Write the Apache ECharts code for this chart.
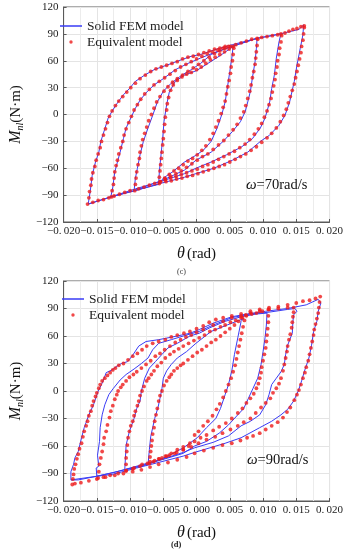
<!DOCTYPE html>
<html>
<head>
<meta charset="utf-8">
<script src="https://cdn.jsdelivr.net/npm/echarts@6/dist/echarts.min.js"></script>
<style>
html,body{margin:0;padding:0;background:#fff;}
#c{width:346px;height:550px;}
</style>
</head>
<body>
<div id="c"></div>
<script>
// ---------- axis ticks ----------
var xTickValues = [-0.020,-0.015,-0.010,-0.005,0.000,0.005,0.010,0.015,0.020];
var yTickValues = [-120,-90,-60,-30,0,30,60,90,120];
var seriesNames = ['Solid FEM model','Equivalent model'];
var panelLabels = ['(c)','(d)'];
var speedLabels = ['70rad/s','90rad/s'];

// ---------- ω = 70 rad/s : Solid FEM model (θ rad, M N·m) ----------
var fem70Loop1 = [[-0.0057,-78],[-0.0056,-64],[-0.0054,-49],[-0.0051,-27],[-0.0049,-8],[-0.0045,11],[-0.0041,25],[-0.0032,37],[-0.0018,44],[0.0000,49],[0.0017,57],[0.0036,66],[0.0055,76],[0.0053,63],[0.0050,48],[0.0047,33],[0.0043,14],[0.0038,0],[0.0031,-15],[0.0022,-30],[0.0010,-40],[-0.0002,-46],[-0.0018,-53],[-0.0036,-64],[-0.0050,-71],[-0.0057,-78]];
var fem70Loop2 = [[-0.0094,-85],[-0.0092,-71],[-0.0089,-60],[-0.0085,-45],[-0.0080,-30],[-0.0073,-15],[-0.0066,-1],[-0.0059,14],[-0.0050,26],[-0.0038,35],[-0.0022,44],[-0.0008,50],[0.0006,57],[0.0022,67],[0.0045,74],[0.0060,78],[0.0091,85],[0.0090,74],[0.0088,59],[0.0084,41],[0.0081,26],[0.0077,14],[0.0073,3],[0.0066,-8],[0.0054,-19],[0.0040,-30],[0.0022,-42],[-0.0001,-51],[-0.0018,-62],[-0.0050,-73],[-0.0094,-85]];
var fem70Loop3 = [[-0.0129,-92],[-0.0126,-81],[-0.0123,-64],[-0.0119,-53],[-0.0115,-42],[-0.0110,-27],[-0.0106,-15],[-0.0099,-4],[-0.0092,7],[-0.0085,16],[-0.0075,25],[-0.0064,33],[-0.0050,40],[-0.0032,50],[-0.0013,57],[0.0006,63],[0.0026,69],[0.0054,76],[0.0091,85],[0.0127,90],[0.0124,81],[0.0120,63],[0.0117,44],[0.0113,29],[0.0110,14],[0.0103,-4],[0.0096,-15],[0.0084,-27],[0.0068,-36],[0.0045,-45],[0.0022,-53],[-0.0001,-60],[-0.0018,-66],[-0.0055,-75],[-0.0092,-83],[-0.0129,-92]];
var fem70Loop4 = [[-0.0163,-100],[-0.0160,-86],[-0.0157,-68],[-0.0152,-53],[-0.0147,-42],[-0.0144,-30],[-0.0138,-16],[-0.0133,-4],[-0.0126,5],[-0.0119,13],[-0.0110,22],[-0.0101,29],[-0.0092,37],[-0.0078,44],[-0.0064,50],[-0.0045,55],[-0.0027,60],[-0.0008,65],[0.0006,67],[0.0026,72],[0.0054,78],[0.0091,85],[0.0126,90],[0.0154,95],[0.0161,100],[0.0160,89],[0.0156,74],[0.0151,55],[0.0147,37],[0.0140,14],[0.0133,-1],[0.0124,-12],[0.0110,-23],[0.0096,-30],[0.0077,-42],[0.0054,-51],[0.0026,-60],[-0.0001,-66],[-0.0018,-70],[-0.0055,-77],[-0.0092,-85],[-0.0129,-92],[-0.0163,-100]];

// ---------- ω = 70 rad/s : Equivalent model ----------
var eq70Loop1 = [[-0.0056,-77],[-0.0056,-70],[-0.0055,-63],[-0.0054,-56],[-0.0053,-49],[-0.0052,-42],[-0.0051,-34],[-0.0050,-27],[-0.0049,-19],[-0.0048,-11],[-0.0047,-3],[-0.0045,5],[-0.0044,12],[-0.0042,19],[-0.0039,27],[-0.0035,33],[-0.0029,38],[-0.0022,42],[-0.0015,45],[-0.0008,47],[0.0000,50],[0.0007,53],[0.0014,57],[0.0021,61],[0.0028,64],[0.0035,67],[0.0042,70],[0.0049,73],[0.0055,76],
 [0.0056,74],[0.0055,67],[0.0054,60],[0.0052,53],[0.0051,46],[0.0049,38],[0.0047,31],[0.0045,23],[0.0043,15],[0.0040,8],[0.0037,1],[0.0033,-7],[0.0029,-14],[0.0025,-21],[0.0020,-28],[0.0014,-35],[0.0008,-40],[0.0001,-45],[-0.0006,-49],[-0.0013,-52],[-0.0020,-56],[-0.0027,-60],[-0.0034,-63],[-0.0041,-67],[-0.0048,-71],[-0.0054,-75]];
var eq70Loop2 = [[-0.0093,-85],[-0.0092,-78],[-0.0091,-71],[-0.0090,-64],[-0.0088,-56],[-0.0086,-49],[-0.0085,-42],[-0.0083,-35],[-0.0081,-28],[-0.0078,-21],[-0.0075,-14],[-0.0072,-7],[-0.0068,0],[-0.0064,7],[-0.0060,14],[-0.0055,20],[-0.0049,26],[-0.0043,31],[-0.0036,36],[-0.0029,40],[-0.0021,44],[-0.0013,48],[-0.0005,52],[0.0003,56],[0.0011,60],[0.0019,64],[0.0027,68],[0.0035,71],[0.0043,74],[0.0051,76],[0.0059,78],[0.0067,80],[0.0075,82],[0.0083,84],[0.0091,85],
 [0.0092,84],[0.0091,77],[0.0090,70],[0.0089,63],[0.0088,56],[0.0086,48],[0.0084,41],[0.0082,33],[0.0080,26],[0.0077,18],[0.0074,10],[0.0071,3],[0.0066,-4],[0.0061,-11],[0.0055,-17],[0.0048,-23],[0.0041,-29],[0.0033,-34],[0.0025,-39],[0.0017,-44],[0.0009,-47],[0.0001,-51],[-0.0007,-55],[-0.0015,-59],[-0.0023,-63],[-0.0031,-66],[-0.0039,-69],[-0.0047,-72],[-0.0055,-75],[-0.0063,-77],[-0.0071,-79],[-0.0079,-81],[-0.0087,-83]];
var eq70Loop3 = [[-0.0128,-92],[-0.0127,-85],[-0.0125,-78],[-0.0124,-71],[-0.0123,-64],[-0.0121,-57],[-0.0119,-51],[-0.0117,-44],[-0.0114,-37],[-0.0111,-30],[-0.0109,-23],[-0.0106,-16],[-0.0102,-9],[-0.0098,-2],[-0.0094,5],[-0.0089,11],[-0.0084,17],[-0.0078,23],[-0.0071,28],[-0.0064,33],[-0.0056,37],[-0.0048,41],[-0.0040,45],[-0.0032,49],[-0.0024,53],[-0.0016,56],[-0.0008,59],[0.0000,62],[0.0008,65],[0.0016,68],[0.0024,70],[0.0032,72],[0.0040,74],[0.0048,76],[0.0098,86],[0.0106,87],[0.0114,88],[0.0122,89],[0.0127,90],
 [0.0128,88],[0.0127,81],[0.0125,74],[0.0124,67],[0.0122,60],[0.0121,53],[0.0119,46],[0.0118,39],[0.0116,32],[0.0114,25],[0.0112,18],[0.0109,11],[0.0106,4],[0.0102,-3],[0.0098,-10],[0.0093,-16],[0.0087,-22],[0.0080,-28],[0.0073,-33],[0.0065,-37],[0.0057,-41],[0.0049,-44],[0.0041,-47],[0.0033,-50],[0.0025,-53],[0.0017,-56],[0.0009,-58],[0.0001,-61],[-0.0007,-63],[-0.0015,-65],[-0.0023,-67],[-0.0031,-69],[-0.0039,-71],[-0.0047,-73],[-0.0100,-85],[-0.0108,-87],[-0.0116,-89],[-0.0124,-91]];
var eq70Loop4 = [[-0.0164,-100],[-0.0162,-93],[-0.0161,-86],[-0.0159,-79],[-0.0158,-72],[-0.0156,-65],[-0.0153,-58],[-0.0151,-51],[-0.0148,-44],[-0.0145,-37],[-0.0143,-30],[-0.0140,-23],[-0.0137,-16],[-0.0134,-9],[-0.0131,-2],[-0.0127,4],[-0.0122,10],[-0.0117,15],[-0.0111,20],[-0.0105,25],[-0.0099,30],[-0.0092,35],[-0.0085,40],[-0.0077,44],[-0.0069,48],[-0.0061,51],[-0.0053,53],[-0.0045,55],[-0.0037,57],[-0.0029,59],[-0.0021,62],[-0.0013,64],[-0.0005,65],[0.0003,67],[0.0011,69],[0.0019,71],[0.0027,73],[0.0035,74],[0.0043,76],[0.0133,91],[0.0139,93],[0.0145,95],[0.0151,96],[0.0157,98],[0.0162,99],
 [0.0162,97],[0.0161,90],[0.0160,83],[0.0158,76],[0.0157,69],[0.0155,62],[0.0153,55],[0.0151,48],[0.0149,41],[0.0147,34],[0.0144,27],[0.0141,20],[0.0138,13],[0.0135,6],[0.0131,-1],[0.0126,-8],[0.0120,-15],[0.0113,-21],[0.0106,-26],[0.0098,-31],[0.0090,-36],[0.0082,-40],[0.0074,-44],[0.0066,-47],[0.0058,-50],[0.0050,-53],[0.0042,-56],[0.0034,-58],[0.0026,-60],[0.0018,-62],[0.0010,-64],[0.0002,-66],[-0.0006,-68],[-0.0014,-69],[-0.0022,-71],[-0.0030,-72],[-0.0038,-74],[-0.0046,-75],[-0.0132,-93],[-0.0140,-95],[-0.0148,-96],[-0.0156,-98]];

// ---------- ω = 90 rad/s : Solid FEM model ----------
var fem90Loop1 = [[-0.0073,-80],[-0.0071,-64],[-0.0069,-50],[-0.0066,-40],[-0.0063,-30],[-0.0058,-18],[-0.0055,-8],[-0.0052,3],[-0.0050,14],[-0.0045,22],[-0.0038,29],[-0.0029,36],[-0.0015,43],[-0.0001,52],[0.0022,65],[0.0046,72],[0.0071,79],[0.0067,76],[0.0062,58],[0.0057,40],[0.0053,22],[0.0048,7],[0.0043,-4],[0.0036,-19],[0.0029,-30],[0.0015,-40],[0.0001,-51],[-0.0020,-62],[-0.0043,-71],[-0.0066,-78],[-0.0073,-80]];
var fem90Loop2 = [[-0.0108,-86],[-0.0107,-73],[-0.0106,-59],[-0.0101,-44],[-0.0094,-30],[-0.0090,-19],[-0.0085,-11],[-0.0083,0],[-0.0078,14],[-0.0071,25],[-0.0062,32],[-0.0052,40],[-0.0043,47],[-0.0029,52],[-0.0010,60],[0.0004,63],[0.0020,69],[0.0043,76],[0.0067,81],[0.0090,84],[0.0106,85],[0.0105,72],[0.0103,58],[0.0100,43],[0.0097,29],[0.0092,14],[0.0085,3],[0.0078,-8],[0.0071,-19],[0.0062,-26],[0.0048,-37],[0.0034,-46],[0.0015,-55],[-0.0003,-60],[-0.0020,-68],[-0.0052,-75],[-0.0085,-82],[-0.0108,-86]];
var fem90Loop3 = [[-0.0150,-93],[-0.0151,-84],[-0.0147,-82],[-0.0149,-70],[-0.0146,-55],[-0.0145,-40],[-0.0142,-26],[-0.0138,-15],[-0.0132,-4],[-0.0125,3],[-0.0115,12],[-0.0106,18],[-0.0094,24],[-0.0083,30],[-0.0073,36],[-0.0066,45],[-0.0057,52],[-0.0038,56],[-0.0020,60],[0.0004,65],[0.0025,72],[0.0053,80],[0.0081,84],[0.0109,86],[0.0137,89],[0.0148,90],[0.0151,87],[0.0146,83],[0.0145,76],[0.0144,63],[0.0137,50],[0.0134,40],[0.0132,29],[0.0127,21],[0.0120,14],[0.0113,7],[0.0109,-4],[0.0104,-15],[0.0095,-26],[0.0081,-33],[0.0067,-38],[0.0048,-49],[0.0025,-56],[-0.0003,-62],[-0.0020,-67],[-0.0050,-74],[-0.0090,-82],[-0.0125,-89],[-0.0150,-93]];
var fem90Loop4 = [[-0.0189,-97],[-0.0189,-88],[-0.0185,-80],[-0.0183,-73],[-0.0178,-66],[-0.0173,-51],[-0.0169,-40],[-0.0162,-26],[-0.0155,-15],[-0.0148,0],[-0.0143,7],[-0.0139,14],[-0.0136,20],[-0.0127,23],[-0.0120,27],[-0.0113,30],[-0.0104,32],[-0.0097,38],[-0.0087,49],[-0.0076,54],[-0.0057,56],[-0.0029,60],[-0.0010,63],[0.0004,67],[0.0025,74],[0.0053,81],[0.0076,84],[0.0104,87],[0.0137,90],[0.0165,94],[0.0183,100],[0.0187,96],[0.0183,87],[0.0181,76],[0.0176,65],[0.0173,50],[0.0169,36],[0.0162,21],[0.0158,11],[0.0153,0],[0.0146,-11],[0.0137,-20],[0.0127,-26],[0.0113,-33],[0.0095,-40],[0.0067,-51],[0.0043,-57],[0.0020,-62],[-0.0003,-67],[-0.0020,-71],[-0.0052,-77],[-0.0090,-84],[-0.0127,-91],[-0.0150,-93],[-0.0178,-97],[-0.0189,-97]];

// ---------- ω = 90 rad/s : Equivalent model ----------
var eq90Loop1 = [[-0.0071,-79],[-0.0070,-72],[-0.0069,-66],[-0.0068,-60],[-0.0067,-54],[-0.0066,-47],[-0.0064,-40],[-0.0063,-33],[-0.0061,-26],[-0.0059,-19],[-0.0057,-11],[-0.0055,-5],[-0.0052,0],[-0.0049,6],[-0.0045,11],[-0.0041,15],[-0.0038,18],[-0.0034,22],[-0.0029,25],[-0.0024,28],[-0.0020,30],[-0.0013,34],[-0.0006,38],[0.0001,42],[0.0008,45],[0.0015,49],[0.0022,53],[0.0029,56],[0.0036,60],[0.0043,64],[0.0050,68],[0.0057,72],[0.0063,76],[0.0069,80],[0.0074,83],
 [0.0072,77],[0.0070,70],[0.0068,63],[0.0066,56],[0.0064,49],[0.0062,42],[0.0060,35],[0.0058,28],[0.0055,21],[0.0052,14],[0.0048,7],[0.0044,0],[0.0040,-7],[0.0035,-14],[0.0030,-20],[0.0024,-27],[0.0017,-33],[0.0010,-38],[0.0003,-44],[-0.0003,-48],[-0.0010,-57],[-0.0020,-61],[-0.0029,-64],[-0.0038,-68],[-0.0047,-71],[-0.0056,-74],[-0.0065,-77]];
var eq90Loop2 = [[-0.0106,-87],[-0.0106,-80],[-0.0106,-73],[-0.0105,-66],[-0.0104,-59],[-0.0103,-51],[-0.0101,-44],[-0.0099,-38],[-0.0096,-33],[-0.0094,-27],[-0.0092,-22],[-0.0089,-16],[-0.0087,-11],[-0.0085,-5],[-0.0082,0],[-0.0079,5],[-0.0075,11],[-0.0072,14],[-0.0068,18],[-0.0064,22],[-0.0059,27],[-0.0053,31],[-0.0047,36],[-0.0040,40],[-0.0034,43],[-0.0027,46],[-0.0020,49],[-0.0012,52],[-0.0004,55],[0.0004,58],[0.0012,61],[0.0020,65],[0.0028,67],[0.0036,70],[0.0043,72],[0.0051,75],[0.0059,77],[0.0067,80],[0.0075,82],[0.0083,84],[0.0090,85],[0.0099,87],[0.0108,89],
 [0.0108,82],[0.0108,75],[0.0107,68],[0.0106,61],[0.0105,54],[0.0104,47],[0.0102,40],[0.0100,33],[0.0098,26],[0.0097,20],[0.0095,14],[0.0093,8],[0.0090,3],[0.0086,-3],[0.0081,-8],[0.0075,-13],[0.0069,-19],[0.0062,-24],[0.0053,-30],[0.0044,-35],[0.0034,-39],[0.0025,-43],[0.0015,-48],[0.0006,-51],[-0.0003,-55],[-0.0012,-60],[-0.0020,-64],[-0.0030,-67],[-0.0041,-70],[-0.0052,-73],[-0.0063,-76],[-0.0074,-79],[-0.0085,-82],[-0.0096,-85]];
var eq90Loop3 = [[-0.0148,-95],[-0.0147,-88],[-0.0146,-80],[-0.0144,-73],[-0.0142,-66],[-0.0140,-58],[-0.0139,-51],[-0.0136,-44],[-0.0134,-37],[-0.0131,-29],[-0.0129,-22],[-0.0126,-16],[-0.0123,-9],[-0.0120,-4],[-0.0118,0],[-0.0114,4],[-0.0111,7],[-0.0106,11],[-0.0101,15],[-0.0095,18],[-0.0090,21],[-0.0083,25],[-0.0076,29],[-0.0069,33],[-0.0062,38],[-0.0055,41],[-0.0048,45],[-0.0040,49],[-0.0032,53],[-0.0024,56],[-0.0016,59],[-0.0008,61],[0.0000,64],[0.0010,67],[0.0025,72],[0.0040,76],[0.0053,80],[0.0067,82],[0.0081,85],[0.0095,87],[0.0109,89],[0.0123,90],[0.0137,91],[0.0146,91],
 [0.0146,86],[0.0145,81],[0.0144,75],[0.0143,69],[0.0141,62],[0.0139,56],[0.0137,49],[0.0136,43],[0.0134,36],[0.0132,29],[0.0130,22],[0.0127,14],[0.0124,8],[0.0120,3],[0.0115,-2],[0.0111,-8],[0.0104,-13],[0.0097,-18],[0.0089,-24],[0.0081,-30],[0.0071,-34],[0.0062,-38],[0.0051,-42],[0.0039,-46],[0.0028,-50],[0.0015,-53],[0.0003,-57],[-0.0008,-61],[-0.0020,-64],[-0.0033,-68],[-0.0045,-71],[-0.0057,-74],[-0.0070,-77],[-0.0082,-80],[-0.0094,-84],[-0.0106,-87],[-0.0118,-90],[-0.0130,-92],[-0.0140,-94]];
var eq90Loop4 = [[-0.0187,-102],[-0.0186,-96],[-0.0185,-91],[-0.0184,-85],[-0.0182,-80],[-0.0180,-74],[-0.0178,-69],[-0.0176,-63],[-0.0173,-57],[-0.0171,-50],[-0.0169,-44],[-0.0166,-38],[-0.0164,-33],[-0.0162,-27],[-0.0159,-22],[-0.0157,-16],[-0.0155,-11],[-0.0152,-6],[-0.0150,-2],[-0.0147,3],[-0.0145,7],[-0.0142,11],[-0.0138,14],[-0.0134,17],[-0.0130,20],[-0.0126,23],[-0.0122,25],[-0.0117,28],[-0.0110,30],[-0.0103,34],[-0.0096,38],[-0.0089,41],[-0.0082,45],[-0.0075,49],[-0.0066,52],[-0.0057,54],[-0.0047,56],[-0.0038,59],[-0.0029,61],[-0.0019,63],[-0.0010,65],[0.0000,68],[0.0010,71],[0.0019,75],[0.0029,78],[0.0040,80],[0.0053,82],[0.0067,84],[0.0081,87],[0.0095,89],[0.0109,91],[0.0123,92],[0.0137,94],[0.0150,96],[0.0160,98],[0.0170,99],[0.0179,101],[0.0186,103],
 [0.0185,97],[0.0184,91],[0.0183,85],[0.0181,79],[0.0179,73],[0.0177,67],[0.0176,61],[0.0174,54],[0.0172,47],[0.0170,40],[0.0168,33],[0.0165,26],[0.0163,20],[0.0160,14],[0.0157,7],[0.0154,1],[0.0151,-4],[0.0147,-10],[0.0141,-18],[0.0136,-23],[0.0130,-29],[0.0122,-34],[0.0113,-38],[0.0104,-42],[0.0095,-46],[0.0085,-49],[0.0076,-51],[0.0066,-54],[0.0053,-57],[0.0039,-59],[0.0025,-62],[0.0011,-65],[-0.0003,-68],[-0.0015,-72],[-0.0029,-75],[-0.0043,-78],[-0.0057,-80],[-0.0070,-83],[-0.0083,-86],[-0.0096,-88],[-0.0110,-90],[-0.0123,-92],[-0.0137,-94],[-0.0150,-96],[-0.0162,-98],[-0.0174,-100],[-0.0183,-101]];

// ---------- styling ----------
var SERIF = "'Liberation Serif','Times New Roman',serif";
var BLUE = '#3a3cf6';
var RED = '#ee1a1a';
var FRAME = '#5a5a5a';

function xFmt(v){
  var s = Math.abs(v).toFixed(3).replace('.', '.\u2009');
  return (v < -1e-9 ? '\u2212' : '') + s;
}
function yFmt(v){ return (v < 0 ? '\u2212' : '') + Math.abs(v); }

function makeX(gi){
  return {
    type:'value', gridIndex:gi, min:-0.02, max:0.02, interval:0.005,
    name:'{i|\u03b8}{r|(rad)}', nameLocation:'middle', nameGap:24,
    nameTextStyle:{color:'#111', fontFamily:SERIF, fontSize:15,
      rich:{i:{fontStyle:'italic', fontFamily:SERIF, fontSize:16, color:'#111'},
            r:{fontFamily:SERIF, fontSize:15, color:'#111', padding:[0,0,0,2]}}},
    axisLine:{show:true, onZero:false, lineStyle:{color:FRAME, width:1}},
    axisTick:{show:true, inside:true, length:3, lineStyle:{color:FRAME}},
    axisLabel:{formatter:xFmt, color:'#222', fontFamily:SERIF, fontSize:11, margin:4,
      showMinLabel:true, showMaxLabel:true, hideOverlap:false, interval:0},
    splitLine:{show:true, lineStyle:{color:'#e4e4e4', width:1}},
    minorTick:{show:false, splitNumber:2},
    minorSplitLine:{show:true, lineStyle:{color:'#ececec', width:1}}
  };
}
function makeY(gi){
  return {
    type:'value', gridIndex:gi, min:-120, max:120, interval:30,
    name:'{i|M}{s|nl}{r|(N\u00b7m)}', nameLocation:'middle', nameGap:26, nameRotate:90,
    nameTextStyle:{color:'#111', fontFamily:SERIF, fontSize:15,
      rich:{i:{fontStyle:'italic', fontFamily:SERIF, fontSize:16, color:'#111'},
            s:{fontStyle:'italic', fontFamily:SERIF, fontSize:10, color:'#111', padding:[8,0,0,0]},
            r:{fontFamily:SERIF, fontSize:15, color:'#111'}}},
    axisLine:{show:true, onZero:false, lineStyle:{color:FRAME, width:1}},
    axisTick:{show:true, inside:true, length:3, lineStyle:{color:FRAME}},
    axisLabel:{formatter:yFmt, color:'#222', fontFamily:SERIF, fontSize:11, margin:5,
      showMinLabel:true, showMaxLabel:true},
    splitLine:{show:true, lineStyle:{color:'#e4e4e4', width:1}}
  };
}

function lineSeries(gi, loops){
  var d = [];
  loops.forEach(function(l){ d = d.concat(l); });
  return {name:seriesNames[0], type:'line', xAxisIndex:gi, yAxisIndex:gi, data:d,
    showSymbol:false, symbol:'none', smooth:false, z:2,
    lineStyle:{color:BLUE, width:1}, itemStyle:{color:BLUE}};
}
function dotSeries(gi, loops){
  var d = [];
  loops.forEach(function(l){ d = d.concat(l); });
  return {name:seriesNames[1], type:'scatter', xAxisIndex:gi, yAxisIndex:gi, data:d,
    symbol:'circle', symbolSize:3.8, z:3, itemStyle:{color:RED}};
}

function legendFor(left, top){
  return {
    orient:'vertical', left:left, top:top, itemGap:2, itemWidth:22, itemHeight:14,
    textStyle:{fontFamily:SERIF, fontSize:13.5, color:'#222'},
    data:[
      {name:seriesNames[0], icon:'path://M0 -7L0 -7Z M22 7L22 7Z M0 -0.75H22V0.75H0Z', itemStyle:{color:BLUE}},
      {name:seriesNames[1], icon:'path://M-11 -7L-11 -7Z M11 7L11 7Z M-1.7 0A1.7 1.7 0 1 0 1.7 0A1.7 1.7 0 1 0 -1.7 0Z', itemStyle:{color:RED}}
    ]
  };
}

var annoRich = {w:{fontStyle:'italic', fontWeight:'normal', fontFamily:SERIF, fontSize:15, color:'#111'},
                n:{fontWeight:'normal', fontFamily:SERIF, fontSize:14.5, color:'#111'}};

var chart = echarts.init(document.getElementById('c'), null, {renderer:'canvas'});
var option = {
  animation:false,
  backgroundColor:'#fff',
  grid:[
    {left:41, top:7, width:289, height:215, show:true, borderColor:FRAME, borderWidth:1, backgroundColor:'transparent'},
    {left:44, top:281, width:286, height:220, show:true, borderColor:FRAME, borderWidth:1, backgroundColor:'transparent'}
  ],
  xAxis:[makeX(0), makeX(1)],
  yAxis:[makeY(0), makeY(1)],
  legend:[legendFor(55,14), legendFor(57,287)],
  title:[
    {text:'{w|\u03c9}{n|=' + speedLabels[0] + '}', left:241, top:173,
     textStyle:{fontWeight:'normal', rich:annoRich}},
    {text:'{w|\u03c9}{n|=' + speedLabels[1] + '}', left:242, top:448,
     textStyle:{fontWeight:'normal', rich:annoRich}},
    {text:panelLabels[0], left:172, top:263, textStyle:{fontFamily:SERIF, fontSize:8, fontWeight:'normal', color:'#333'}},
    {text:panelLabels[1], left:166, top:535, textStyle:{fontFamily:SERIF, fontSize:8.5, fontWeight:'bold', color:'#222'}}
  ],
  series:[
    lineSeries(0,[fem70Loop1,fem70Loop2,fem70Loop3,fem70Loop4]),
    dotSeries(0,[eq70Loop1,eq70Loop2,eq70Loop3,eq70Loop4]),
    lineSeries(1,[fem90Loop1,fem90Loop2,fem90Loop3,fem90Loop4]),
    dotSeries(1,[eq90Loop1,eq90Loop2,eq90Loop3,eq90Loop4])
  ]
};
chart.setOption(option);
</script>
</body>
</html>
